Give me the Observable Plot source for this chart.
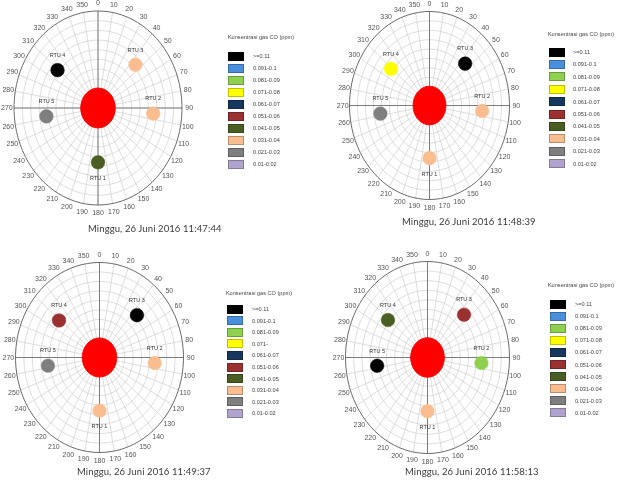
<!DOCTYPE html>
<html><head><meta charset="utf-8">
<script src="https://cdn.jsdelivr.net/npm/d3@7"></script>
<script src="https://cdn.jsdelivr.net/npm/@observablehq/plot@0.6"></script>
<style>
body{margin:0;background:#fff;font-family:"Liberation Sans",Arial,sans-serif}
#root{position:relative;width:622px;height:480px;overflow:hidden;background:#fff}
#root svg{position:absolute;left:0;top:0;will-change:transform}
.cap{position:absolute;font-size:9.5px;color:#3a3a3a;white-space:nowrap;font-family:"Lato","Liberation Sans",sans-serif;letter-spacing:0.1px}
.lgt{position:absolute;font-size:5.6px;color:#444;white-space:nowrap;transform:translate(-50%,-50%)}
.sw{position:absolute;width:16px;height:9px;box-sizing:border-box;border:0.5px solid rgba(0,0,0,0.25)}
.sl{position:absolute;font-size:5.6px;color:#444;white-space:nowrap;transform:translateY(-50%)}
</style></head>
<body><div id="root"></div>
<script>
// ---- data ----
const legendTitle = "Konsentrasi gas CO (ppm)";
const legendLabels = [">=0.11","0.091-0.1","0.081-0.09","0.071-0.08","0.061-0.07","0.051-0.06","0.041-0.05","0.031-0.04","0.021-0.03","0.01-0.02"];
const legendColors = ["#000000","#4a8fdc","#8fd14f","#ffff00","#17375e","#9b3030","#4a5e23","#f9bd90","#7f7f7f","#b0a4cf"];
const rtuNames  = ["RTU 1","RTU 2","RTU 3","RTU 4","RTU 5"];
const rtuAngles = [180, 95, 45, 309, 262];
const rtuRadii  = [0.56, 0.66, 0.63, 0.62, 0.62];
const timestamps = ["Minggu, 26 Juni 2016 11:47:44","Minggu, 26 Juni 2016 11:48:39","Minggu, 26 Juni 2016 11:49:37","Minggu, 26 Juni 2016 11:58:13"];
// concentration class (index into legend) per RTU, per snapshot
const classes1 = [6, 7, 7, 0, 8];
const classes2 = [7, 7, 0, 3, 8];
const classes3 = [7, 7, 0, 5, 8];
const classes4 = [7, 2, 5, 6, 0];
const legendLabels3 = [">=0.11","0.091-0.1","0.081-0.09","0.071-","0.061-0.07","0.051-0.06","0.041-0.05","0.031-0.04","0.021-0.03","0.01-0.02"];
const angleTicks = d3.range(0, 360, 10);
const ringLevels = d3.range(0.1, 1.001, 0.1);

// ---- layout ----
const W = 622, H = 480;
const panels = [
  {cx: 97.5, cy: 107.5, rx: 84, ry: 97, classes: classes1, labels: legendLabels,
   lg: {tx: 261, ty: 37, sx: 228, sy: 56, step: 12, lx: 253}, cap: {x: 88, y: 223}},
  {cx: 429, cy: 105, rx: 80, ry: 94, classes: classes2, labels: legendLabels,
   lg: {tx: 581, ty: 34, sx: 549, sy: 52, step: 12.4, lx: 573}, cap: {x: 402, y: 216}},
  {cx: 99, cy: 357, rx: 84, ry: 95, classes: classes3, labels: legendLabels3,
   lg: {tx: 259, ty: 293, sx: 227, sy: 309, step: 11.6, lx: 252}, cap: {x: 77, y: 466}},
  {cx: 427, cy: 357, rx: 82, ry: 96, classes: classes4, labels: legendLabels,
   lg: {tx: 581, ty: 285, sx: 550, sy: 304, step: 12.1, lx: 575}, cap: {x: 405, y: 466}}
];

const rad = a => a * Math.PI / 180;
const px = (a, r) => r * Math.sin(rad(a));
const py = (a, r) => r * Math.cos(rad(a));

const root = document.getElementById("root");

// ring geometry (gridlines)
const ringPts = [];
ringLevels.forEach((r, k) => d3.range(0, 360, 4).forEach(a => ringPts.push({k, r, x: px(a, r), y: py(a, r)})));
const outerPts = ringPts.filter(d => d.k === ringLevels.length - 1);
const innerPts = ringPts.filter(d => d.k !== ringLevels.length - 1);
const spokes = angleTicks.map(a => ({a, x1: px(a, 0.1), y1: py(a, 0.1), x2: px(a, 1), y2: py(a, 1)}));
const mainAxes = [0, 90].map(a => ({x1: px(a, -1), y1: py(a, -1), x2: px(a, 1), y2: py(a, 1)}));
const tickLabels = angleTicks.map(a => ({a, x: px(a, 1.085), y: py(a, 1.085), t: String(a)}));
const redPts = d3.range(0, 360, 6).map(a => ({x: px(a, 0.205), y: py(a, 0.205)}));

panels.forEach((p, i) => {
  const rtus = rtuNames.map((name, j) => ({
    name, x: px(rtuAngles[j], rtuRadii[j]), y: py(rtuAngles[j], rtuRadii[j]),
    color: legendColors[p.classes[j]], below: j === 0
  }));
  const svg = Plot.plot({
    width: W, height: H, margin: 0,
    style: {background: "transparent", overflow: "visible"},
    x: {domain: [-1, 1], range: [p.cx - p.rx, p.cx + p.rx], axis: null},
    y: {domain: [-1, 1], range: [p.cy + p.ry, p.cy - p.ry], axis: null},
    marks: [
      Plot.line(innerPts, {x: "x", y: "y", z: "k", curve: "linear-closed", stroke: "#cfcfcf", strokeWidth: 0.7}),
      Plot.link(spokes, {x1: "x1", y1: "y1", x2: "x2", y2: "y2", stroke: "#cfcfcf", strokeWidth: 0.7}),
      Plot.link(mainAxes, {x1: "x1", y1: "y1", x2: "x2", y2: "y2", stroke: "#707070", strokeWidth: 0.9}),
      Plot.line(outerPts, {x: "x", y: "y", curve: "linear-closed", stroke: "#6a6a6a", strokeWidth: 1}),
      Plot.text(tickLabels, {x: "x", y: "y", text: "t", fontSize: 7, fill: "#555", fontFamily: "Liberation Sans"}),
      Plot.line(redPts, {x: "x", y: "y", curve: "linear-closed", fill: "#ff0000", stroke: "#ff0000", strokeWidth: 1}),
      Plot.dot(rtus, {x: "x", y: "y", r: 6.8, fill: "color", stroke: "color", strokeWidth: 0.5}),
      Plot.text(rtus.filter(d => !d.below), {x: "x", y: "y", text: "name", dy: -15, fontSize: 5.5, fill: "#333", fontFamily: "Liberation Sans"}),
      Plot.text(rtus.filter(d => d.below), {x: "x", y: "y", text: "name", dy: 16, fontSize: 5.5, fill: "#333", fontFamily: "Liberation Sans"})
    ]
  });
  root.appendChild(svg);

  // legend
  const lt = document.createElement("div");
  lt.className = "lgt"; lt.textContent = legendTitle;
  lt.style.left = p.lg.tx + "px"; lt.style.top = p.lg.ty + "px";
  root.appendChild(lt);
  legendColors.forEach((c, k) => {
    const y = p.lg.sy + k * p.lg.step;
    const sw = document.createElement("div");
    sw.className = "sw"; sw.style.background = c;
    sw.style.left = p.lg.sx + "px"; sw.style.top = (y - 4.5) + "px";
    root.appendChild(sw);
    const sl = document.createElement("div");
    sl.className = "sl"; sl.textContent = p.labels[k];
    sl.style.left = p.lg.lx + "px"; sl.style.top = y + "px";
    root.appendChild(sl);
  });

  // caption
  const cap = document.createElement("div");
  cap.className = "cap"; cap.textContent = timestamps[i];
  cap.style.left = p.cap.x + "px"; cap.style.top = p.cap.y + "px";
  root.appendChild(cap);
});
</script>
</body></html>
